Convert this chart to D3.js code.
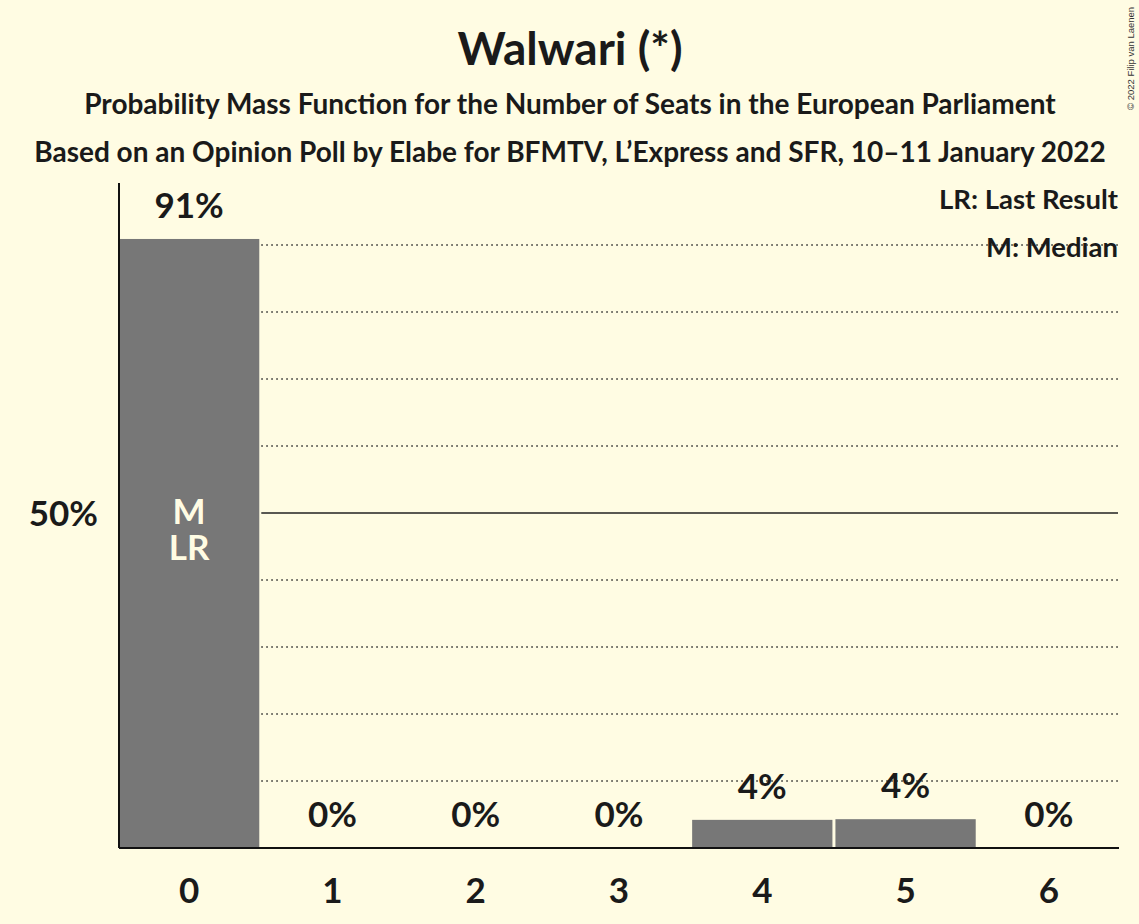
<!DOCTYPE html>
<html>
<head>
<meta charset="utf-8">
<script src="https://cdn.jsdelivr.net/npm/d3@7"></script>
<style>
html,body{margin:0;padding:0;background:#FFFCE3;}
svg{display:block;font-family:Lato,"Open Sans",sans-serif;}
</style>
</head>
<body>
<svg id="chart" width="1139" height="924"></svg>
<script>
const seats = [0, 1, 2, 3, 4, 5, 6];
const probabilities = [90.9, 0, 0, 0, 4.2, 4.3, 0];
const valueLabels = ["91%", "0%", "0%", "0%", "4%", "4%", "0%"];
const gridTicks = [10, 20, 30, 40, 50, 60, 70, 80, 90];
const yTickLabels = [50];
const barAnnotations = { 0: ["M", "LR"] };
const titleText = "Walwari (*)";
const subtitle1 = "Probability Mass Function for the Number of Seats in the European Parliament";
const subtitle2 = "Based on an Opinion Poll by Elabe for BFMTV, L\u2019Express and SFR, 10\u201311 January 2022";
const legendLines = ["LR: Last Result", "M: Median"];
const copyright = "\u00A9 2022 Filip van Laenen";

const svg = d3.select("#chart");
const W = 1139, H = 924;
svg.append("rect").attr("width", W).attr("height", H).attr("fill", "#FFFCE3");

const x = d3.scaleBand().domain(seats).range([119, 1119]).paddingInner(0.021).paddingOuter(0.0);
const y = d3.scaleLinear().domain([0, 100]).range([848, 178]);

// gridlines
const gridStart = x(1) - 1;
svg.append("g").selectAll("line").data(gridTicks).join("line")
  .attr("x1", gridStart).attr("x2", 1118)
  .attr("y1", d => y(d)).attr("y2", d => y(d))
  .attr("stroke", "#222")
  .attr("stroke-width", d => d === 50 ? 1.4 : 1.5)
  .attr("stroke-dasharray", d => d === 50 ? null : "1.5,3.5");

// bars
svg.append("g").selectAll("rect").data(seats).join("rect")
  .attr("x", d => x(d))
  .attr("width", x.bandwidth())
  .attr("y", (d, i) => y(probabilities[i]))
  .attr("height", (d, i) => y(0) - y(probabilities[i]))
  .attr("fill", "#777777");

// value labels
svg.append("g").selectAll("text").data(seats).join("text")
  .attr("x", d => x(d) + x.bandwidth() / 2)
  .attr("y", (d, i) => y(probabilities[i]) - 21)
  .attr("text-anchor", "middle")
  .attr("font-size", 35).attr("font-weight", 700)
  .attr("fill", "#1a1a1a")
  .text((d, i) => valueLabels[i]);

// annotations inside bar (one text block with lines)
Object.entries(barAnnotations).forEach(([k, lines]) => {
  const cx = x(+k) + x.bandwidth() / 2;
  const t = svg.append("text").attr("x", cx).attr("y", y(50) + 11)
    .attr("text-anchor", "middle").attr("font-size", 35).attr("font-weight", 700)
    .attr("fill", "#FFFCE3");
  lines.forEach((s, j) => {
    t.append("tspan").attr("x", cx).attr("dy", j === 0 ? 0 : 36).text(s);
  });
});

// axes
const xAxis = d3.axisBottom(x).tickSize(0).tickPadding(0);
const gx = svg.append("g").attr("transform", `translate(0,${y(0)})`).call(xAxis);
gx.select(".domain").attr("stroke", "#111").attr("stroke-width", 2).attr("d", "M119,0H1119");
gx.selectAll("text").attr("y", 55).attr("dy", null).attr("font-size", 35).attr("font-weight", 700)
  .attr("font-family", "Lato, sans-serif").attr("fill", "#1a1a1a");

const yAxis = d3.axisLeft(y).tickValues(yTickLabels).tickFormat(d => d + "%").tickSize(0).tickPadding(21);
const gy = svg.append("g").attr("transform", "translate(119,0)").call(yAxis);
gy.select(".domain").attr("stroke", "#111").attr("stroke-width", 2).attr("d", `M0,${y(0)}V183`);
gy.selectAll("text").attr("font-size", 35).attr("font-weight", 700).attr("dy", "0.35em")
  .attr("font-family", "Lato, sans-serif").attr("fill", "#1a1a1a");

// titles
svg.append("text").attr("x", 570).attr("y", 65).attr("text-anchor", "middle")
  .attr("font-size", 46).attr("font-weight", 700).attr("fill", "#1a1a1a").text(titleText);
svg.append("text").attr("x", 570).attr("y", 114).attr("text-anchor", "middle")
  .attr("font-size", 28).attr("font-weight", 700).attr("fill", "#1a1a1a").text(subtitle1);
svg.append("text").attr("x", 570).attr("y", 162).attr("text-anchor", "middle")
  .attr("font-size", 28).attr("font-weight", 700).attr("fill", "#1a1a1a").text(subtitle2);

// legend
legendLines.forEach((t, i) => {
  svg.append("text").attr("x", 1118).attr("y", 209 + i * 48).attr("text-anchor", "end")
    .attr("font-size", 27.5).attr("font-weight", 700).attr("fill", "#1a1a1a").text(t);
});

// copyright
svg.append("text").attr("transform", "translate(1134,110) rotate(-90)")
  .attr("font-size", 9.5).attr("font-family", "Liberation Sans, Arial, sans-serif")
  .attr("fill", "#333").text(copyright);
</script>
</body>
</html>
